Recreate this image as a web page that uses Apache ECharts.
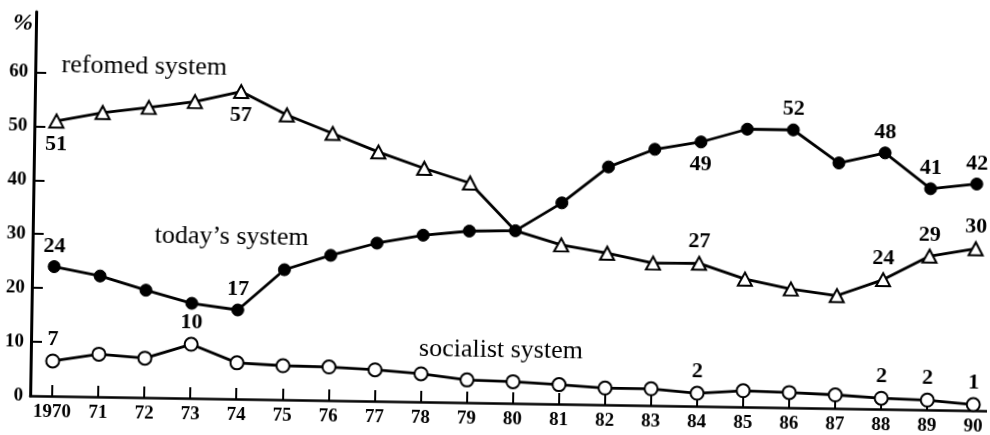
<!DOCTYPE html>
<html>
<head>
<meta charset="utf-8">
<script src="https://cdn.jsdelivr.net/npm/echarts@6/dist/echarts.min.js"></script>
<style>
html,body{margin:0;padding:0;background:#fff;overflow:hidden;}
#wrap{width:990px;height:435px;transform:rotate(0.9deg);transform-origin:495px 217.5px;background:#fff;}
#c{width:990px;height:435px;}
</style>
</head>
<body>
<div id="wrap"><div id="c"></div></div>
<script>
// ---- data ----
const years = [1970,1971,1972,1973,1974,1975,1976,1977,1978,1979,1980,1981,1982,1983,1984,1985,1986,1987,1988,1989,1990];
const yearLabels = ['1970','71','72','73','74','75','76','77','78','79','80','81','82','83','84','85','86','87','88','89','90'];
const yTicks = [0,10,20,30,40,50,60];

const reformedName = 'refomed system';
const todaysName = 'today\u2019s system';
const socialistName = 'socialist system';

const reformed  = [51, 52.7, 53.8, 55.0, 57, 52.8, 49.5, 46.2, 43.3, 40.7, 32, 29.5, 28.1, 26.4, 26.5, 23.7, 22.0, 20.9, 24, 28.5, 30];
const todays    = [24, 22.4, 19.9, 17.6, 16.5, 24.1, 26.9, 29.3, 30.9, 31.8, 32, 37.3, 44.1, 47.5, 49, 51.5, 51.5, 45.5, 47.5, 41, 42];
const socialist = [6.5, 7.9, 7.3, 10, 6.7, 6.3, 6.2, 5.8, 5.2, 4.2, 4.0, 3.6, 3.1, 3.1, 2.4, 3.0, 2.8, 2.5, 2, 1.8, 1.1];

const reformedLabeled  = [1970, 1974, 1984, 1988, 1989, 1990];
const todaysLabeled    = [1970, 1974, 1984, 1986, 1988, 1989, 1990];
const socialistLabeled = [1970, 1973, 1984, 1988, 1989, 1990];

// ---- styling / construction ----
const SERIF = '"Liberation Serif", "DejaVu Serif", serif';
const below = { reformed: [1970, 1974], todays: [1984] };
const noMarker = { reformed: [1980] };

function build(key, vals, labeled) {
  return vals.map((v, i) => {
    const yr = years[i];
    const item = { value: [yr, v] };
    if (labeled.indexOf(yr) >= 0) {
      const isBelow = (below[key] || []).indexOf(yr) >= 0;
      item.label = {
        show: true,
        position: isBelow ? 'bottom' : 'top',
        distance: isBelow ? 5 : 3,
        formatter: String(Math.round(v)),
        fontFamily: SERIF, fontSize: 22, fontWeight: 'bold', color: '#000'
      };
    }
    if ((noMarker[key] || []).indexOf(yr) >= 0) item.symbol = 'none';
    return item;
  });
}

const chart = echarts.init(document.getElementById('c'), null, { renderer: 'canvas' });
const nameFont = '26px ' + SERIF;
const option = {
  backgroundColor: '#fff',
  animation: false,
  grid: { left: 33, right: 0, top: 19, bottom: 32 },
  xAxis: {
    type: 'value',
    min: 1969.522, max: 1990.30,
    axisLine: { show: true, lineStyle: { color: '#000', width: 2.5 } },
    axisTick: { show: true, inside: true, length: 11, customValues: years, lineStyle: { color: '#000', width: 2 } },
    axisLabel: {
      customValues: years, margin: 7,
      formatter: v => yearLabels[years.indexOf(Math.round(v))] || '',
      fontFamily: SERIF, fontSize: 19, fontWeight: 'bold', color: '#000'
    },
    splitLine: { show: false }
  },
  yAxis: {
    type: 'value',
    min: 0, max: 71.2,
    name: '%', nameLocation: 'end', nameGap: -12,
    nameTextStyle: { fontFamily: SERIF, fontStyle: 'italic', fontWeight: 'bold', fontSize: 24, color: '#000', align: 'right', verticalAlign: 'middle', padding: [0, 3, 0, 0] },
    axisLine: { show: true, lineStyle: { color: '#000', width: 3 } },
    axisTick: { show: true, inside: true, length: 11, customValues: yTicks.filter(t => t > 0), lineStyle: { color: '#000', width: 2 } },
    axisLabel: { customValues: yTicks, margin: 7, fontFamily: SERIF, fontSize: 19, fontWeight: 'bold', color: '#000' },
    splitLine: { show: false }
  },
  graphic: [
    { type: 'text', x: 142, y: 72, style: { text: reformedName, font: nameFont, fill: '#000', align: 'center', verticalAlign: 'middle' } },
    { type: 'text', x: 232, y: 241, style: { text: todaysName, font: nameFont, fill: '#000', align: 'center', verticalAlign: 'middle' } },
    { type: 'text', x: 503, y: 350, style: { text: socialistName, font: nameFont, fill: '#000', align: 'center', verticalAlign: 'middle' } }
  ],
  series: [
    {
      name: reformedName, type: 'line', z: 2,
      symbol: 'triangle', symbolSize: [14, 13],
      lineStyle: { color: '#000', width: 2.8 },
      itemStyle: { color: '#fff', borderColor: '#000', borderWidth: 2 },
      data: build('reformed', reformed, reformedLabeled)
    },
    {
      name: socialistName, type: 'line', z: 3,
      symbol: 'circle', symbolSize: 13,
      lineStyle: { color: '#000', width: 2.8 },
      itemStyle: { color: '#fff', borderColor: '#000', borderWidth: 2 },
      data: build('socialist', socialist, socialistLabeled)
    },
    {
      name: todaysName, type: 'line', z: 4,
      symbol: 'circle', symbolSize: 12,
      lineStyle: { color: '#000', width: 2.8 },
      itemStyle: { color: '#000', borderColor: '#000', borderWidth: 1 },
      data: build('todays', todays, todaysLabeled)
    }
  ]
};
chart.setOption(option);
</script>
</body>
</html>
